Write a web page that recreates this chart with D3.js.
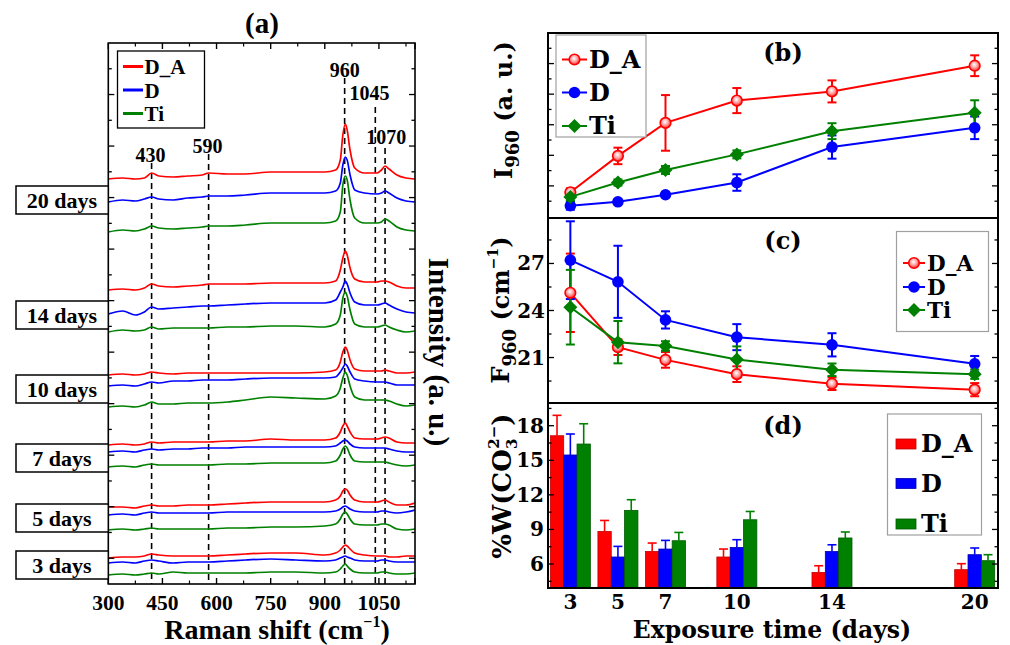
<!DOCTYPE html>
<html><head><meta charset="utf-8">
<script src="https://cdn.jsdelivr.net/npm/d3@7"></script>
<style>
html,body{margin:0;padding:0;background:#fff;}
svg{display:block;}
</style></head>
<body>
<svg id="chart" width="1010" height="645"></svg>
<script>
// ================= DATA =================
const seriesNames = ["D_A", "D", "Ti"];
const seriesColors = ["#ff0000", "#0000ff", "#008000"];
const seriesDark = ["#c00000", "#0000b0", "#005a00"];

// ---- Panel (a): Raman spectra (intensity, a.u., stacked with offsets) ----
const ramanShift = [300,340,375,400,420,440,480,520,560,578,630,680,750,820,900,930,943,950,957,962,970,983,1010,1045,1057,1067,1078,1100,1125,1150];
const spec20_DA = [405,406,405,406,411,408,407,408,409,411,410,410,412,412,412,414,424,449,460,454,434,416,411,411,414,418,415,409,406,405];
const spec20_D  = [382,384,383,385,387,385,384,386,387,388,388,389,391,391,391,393,401,419,427,424,409,394,391,390,391,393,391,386,383,382];
const spec20_Ti = [352,354,353,355,358,356,355,356,357,358,358,359,361,361,361,363,372,399,408,404,384,366,361,361,362,365,363,357,354,353];
const spec14_DA = [294,295,294,296,300,298,297,298,299,300,300,300,301,301,301,303,314,326,333,329,316,305,302,302,303,303,302,298,296,296];
const spec14_D  = [270,273,269,272,277,275,276,277,278,278,279,280,281,281,281,284,292,297,303,300,291,282,279,279,280,281,279,275,272,271];
const spec14_Ti = [252,254,253,254,257,255,256,256,256,256,257,257,258,258,257,260,269,286,292,288,274,260,257,257,258,259,257,254,252,253];
const spec10_DA = [209,210,209,210,212,211,210,211,211,211,211,211,211,211,212,214,222,232,237,234,224,215,213,213,213,214,213,211,211,212];
const spec10_D  = [198,199,198,200,202,201,203,203,204,204,204,205,206,206,206,207,212,216,220,218,212,205,203,202,202,202,201,199,199,199];
const spec10_Ti = [177,178,177,179,182,180,180,181,181,181,182,184,187,186,185,188,196,206,212,209,198,187,184,184,184,184,183,180,178,179];
const spec7_DA  = [139,140,139,140,142,141,142,142,142,142,143,143,145,144,144,146,152,158,161,158,152,146,145,145,146,147,146,142,141,141];
const spec7_D   = [132,133,132,134,135,134,135,135,136,136,136,137,137,137,137,138,141,143,144,143,140,137,136,136,136,136,135,133,132,132];
const spec7_Ti  = [117,118,117,119,120,119,119,119,119,119,120,120,121,121,121,123,129,135,138,136,129,123,122,122,122,122,121,119,118,119];
const spec5_DA  = [77,77,76,78,79,78,78,79,79,79,80,81,82,82,82,84,88,93,95,94,89,84,82,82,83,84,82,79,79,81];
const spec5_D   = [69,70,69,71,72,71,71,71,71,71,72,72,72,72,72,73,75,77,78,77,75,73,72,72,73,73,72,71,72,74];
const spec5_Ti  = [54,55,54,55,56,55,55,55,55,55,56,56,57,57,58,60,65,70,72,70,65,60,59,59,60,60,59,55,54,55];
const spec3_DA  = [26,27,27,28,30,29,28,28,28,28,29,30,31,31,29,31,34,37,39,38,35,31,29,28,28,28,27,27,28,28];
const spec3_D   = [21,22,21,23,24,23,21,22,22,22,23,24,25,24,23,24,26,27,28,27,26,24,23,23,24,24,23,22,22,22];
const spec3_Ti  = [9,10,9,10,11,10,12,11,11,11,11,11,12,12,11,12,15,18,20,18,15,12,11,11,12,12,11,10,10,11];
const dayLabels = ["20 days","14 days","10 days","7 days","5 days","3 days"];
const dayLabelLevels = [384,269,195,126,66,19];
const peakLines = [420,578,955,1040,1067];
const peakLineTops = [421,430,506,477,436];
const peakLabels = ["430","590","960","1045","1070"];
const peakLabelPos = [417,575,955,1024,1070];
const peakLabelLevels = [422,431,507,484,440];
const ramanTicks = [300,450,600,750,900,1050];
const ramanMinorTicks = [375,525,675,825,975,1125];

// ---- Panels (b)-(d): shared exposure time ----
const exposureDays = [3,5,7,10,14,20];
// (b) I960 (a.u.)
const I960_DA = [0.79,1.98,3.06,3.79,4.09,4.93];
const I960_DA_err = [0.13,0.27,0.91,0.41,0.36,0.34];
const I960_D = [0.35,0.48,0.71,1.11,2.27,2.90];
const I960_D_err = [0.13,0.07,0.07,0.27,0.38,0.37];
const I960_Ti = [0.64,1.11,1.52,2.03,2.79,3.39];
const I960_Ti_err = [0.13,0.10,0.13,0.13,0.26,0.41];
// (c) F960 (cm-1)
const F960_DA = [25.13,21.66,20.85,19.94,19.33,18.95];
const F960_DA_err = [2.50,0.50,0.50,0.50,0.40,0.42];
const F960_D = [27.21,25.83,23.40,22.30,21.81,20.60];
const F960_D_err = [2.48,2.30,0.55,0.83,0.74,0.50];
const F960_Ti = [24.21,21.98,21.74,20.87,20.22,19.94];
const F960_Ti_err = [2.38,1.35,0.30,0.84,0.40,0.30];
const F960Ticks = [21,24,27];
// (d) %W(CO3 2-)
const W_DA = [17.13,8.83,7.09,6.61,5.27,5.51];
const W_DA_err = [1.77,0.95,0.73,0.69,0.58,0.52];
const W_D = [15.46,6.61,7.30,7.44,7.09,6.81];
const W_D_err = [1.82,0.92,0.75,0.67,0.58,0.58];
const W_Ti = [16.41,10.65,8.02,9.84,8.26,6.29];
const W_Ti_err = [1.76,0.93,0.72,0.72,0.52,0.52];
const WTicks = [6,9,12,15,18];

// ================= DRAWING =================
const svg = d3.select("#chart");
const FA = "'Liberation Serif', 'Times New Roman', serif";
const FR = "'DejaVu Serif', serif";

const defs = svg.append("defs");
const gr = defs.append("radialGradient").attr("id","gRed").attr("cx","45%").attr("cy","40%").attr("r","60%");
gr.append("stop").attr("offset","0%").attr("stop-color","#ffffff");
gr.append("stop").attr("offset","55%").attr("stop-color","#ff9a9a");
gr.append("stop").attr("offset","100%").attr("stop-color","#ff2020");

function line(g, x1, y1, x2, y2, w, c, dash) {
  const l = g.append("line").attr("x1",x1).attr("y1",y1).attr("x2",x2).attr("y2",y2)
    .attr("stroke", c || "#000").attr("stroke-width", w || 1.5);
  if (dash) l.attr("stroke-dasharray", dash);
  return l;
}

// ---------- Panel (a) ----------
const A = {x0:108.3, x1:415, y0:43, y1:584};
const xA = d3.scaleLinear().domain([300,1150]).range([A.x0, A.x1]);
const yA = d3.scaleLinear().domain([0,541]).range([A.y1, A.y0]);
const gA = svg.append("g");

defs.append("clipPath").attr("id","clipA").append("rect")
  .attr("x",A.x0).attr("y",A.y0).attr("width",A.x1-A.x0).attr("height",A.y1-A.y0);

const spectra = [
  [spec20_DA, spec20_D, spec20_Ti],
  [spec14_DA, spec14_D, spec14_Ti],
  [spec10_DA, spec10_D, spec10_Ti],
  [spec7_DA, spec7_D, spec7_Ti],
  [spec5_DA, spec5_D, spec5_Ti],
  [spec3_DA, spec3_D, spec3_Ti]
];
const specLine = d3.line().x((d,i)=>xA(ramanShift[i])).y(d=>yA(d)).curve(d3.curveMonotoneX);

peakLines.forEach((p,i)=>{
  line(gA, xA(p), yA(peakLineTops[i]), xA(p), A.y1, 1.6, "#000", "6,4");
});

const gSpec = gA.append("g").attr("clip-path","url(#clipA)");
spectra.forEach(grp=>{
  grp.forEach((s,k)=>{
    gSpec.append("path").attr("d", specLine(s)).attr("fill","none")
      .attr("stroke", seriesColors[k]).attr("stroke-width",1.7);
  });
});

peakLabels.forEach((t,i)=>{
  gA.append("text").attr("x", xA(peakLabelPos[i])).attr("y", yA(peakLabelLevels[i]))
    .attr("text-anchor","middle").attr("font-family",FA).attr("font-weight","bold")
    .attr("font-size",20).text(t);
});

gA.append("rect").attr("x",A.x0).attr("y",A.y0).attr("width",A.x1-A.x0).attr("height",A.y1-A.y0)
  .attr("fill","none").attr("stroke","#000").attr("stroke-width",1.6);
ramanTicks.concat([1150]).forEach(v=>{
  line(gA, xA(v), A.y1, xA(v), A.y1-6, 1.4);
  line(gA, xA(v), A.y0, xA(v), A.y0+6, 1.4);
});
ramanMinorTicks.forEach(v=>{
  line(gA, xA(v), A.y1, xA(v), A.y1-3.5, 1.2);
  line(gA, xA(v), A.y0, xA(v), A.y0+3.5, 1.2);
});
d3.range(1,21).forEach(k=>{
  const v = k*541/21, len = (k%2===1)?6:3.5;
  line(gA, A.x0, yA(v), A.x0+len, yA(v), 1.3);
  line(gA, A.x1, yA(v), A.x1-len, yA(v), 1.3);
});
ramanTicks.forEach(v=>{
  gA.append("text").attr("x",xA(v)).attr("y",609.5).attr("text-anchor","middle")
    .attr("font-family",FA).attr("font-weight","bold").attr("font-size",21.5).text(v);
});
const tR = gA.append("text").attr("x",277).attr("y",639).attr("text-anchor","middle")
  .attr("font-family",FA).attr("font-weight","bold").attr("font-size",28);
tR.append("tspan").text("Raman shift (cm");
tR.append("tspan").attr("font-size",16).attr("dy",-12).text("\u22121");
tR.append("tspan").attr("dy",12).text(")");
gA.append("text").attr("transform","translate(429,352) rotate(90)").attr("text-anchor","middle")
  .attr("font-family",FA).attr("font-weight","bold").attr("font-size",29).text("Intensity (a. u.)");
gA.append("text").attr("x",262).attr("y",33).attr("text-anchor","middle")
  .attr("font-family",FA).attr("font-weight","bold").attr("font-size",29).text("(a)");

dayLabels.forEach((t,i)=>{
  const cy = yA(dayLabelLevels[i]);
  gA.append("rect").attr("x",16).attr("y",cy-14).attr("width",A.x0-16).attr("height",28)
    .attr("fill","#fff").attr("stroke","#000").attr("stroke-width",1.5);
  gA.append("text").attr("x",62).attr("y",cy+7.5).attr("text-anchor","middle")
    .attr("font-family",FA).attr("font-weight","bold").attr("font-size",22).text(t);
});

gA.append("rect").attr("x",117.5).attr("y",51).attr("width",87).attr("height",77)
  .attr("fill","#fff").attr("stroke","#000").attr("stroke-width",1.3);
[66.5, 90, 113.5].forEach((ly,i)=>{
  line(gA, 123, ly, 143, ly, 3, seriesColors[i]);
  gA.append("text").attr("x",144.5).attr("y",ly+7.5).attr("font-family",FA)
    .attr("font-weight","bold").attr("font-size",21).text(seriesNames[i]);
});

// ---------- Panels (b)-(d) ----------
const RX = {x0:548, x1:998};
const xR = d3.scaleLinear().domain([2.06,20.98]).range([RX.x0, RX.x1]);
const yB = d3.scaleLinear().domain([-0.05,6]).range([218,33]);
const yC = d3.scaleLinear().domain([18.1,29.9]).range([403,218]);
const yD = d3.scaleLinear().domain([3.92,19.97]).range([588,403]);
const gR = svg.append("g");

function marker(g, k, cx, cy, s) {
  s = s || 1;
  if (k===0) {
    g.append("circle").attr("cx",cx).attr("cy",cy).attr("r",5.3*s)
      .attr("fill","url(#gRed)").attr("stroke","#ff0000").attr("stroke-width",1.6);
  } else if (k===1) {
    g.append("circle").attr("cx",cx).attr("cy",cy).attr("r",5.8*s).attr("fill","#0000ff");
  } else {
    const r = 7*s;
    g.append("path").attr("d",`M${cx},${cy-r}L${cx+r},${cy}L${cx},${cy+r}L${cx-r},${cy}Z`).attr("fill","#008000");
  }
}

function linePanel(y, vals, errs) {
  const g = gR.append("g");
  vals.forEach((arr,k)=>{
    const c = seriesColors[k];
    const ln = d3.line().x((d,i)=>xR(exposureDays[i])).y(d=>y(d));
    g.append("path").attr("d",ln(arr)).attr("fill","none").attr("stroke",c).attr("stroke-width",2);
    arr.forEach((v,i)=>{
      const cx = xR(exposureDays[i]), e = errs[k][i];
      line(g, cx, y(v-e), cx, y(v+e), 2, c);
      line(g, cx-4.5, y(v+e), cx+4.5, y(v+e), 2, c);
      line(g, cx-4.5, y(v-e), cx+4.5, y(v-e), 2, c);
    });
  });
  vals.forEach((arr,k)=>{
    arr.forEach((v,i)=> marker(g, k, xR(exposureDays[i]), y(v)));
  });
}

linePanel(yB, [I960_DA, I960_D, I960_Ti], [I960_DA_err, I960_D_err, I960_Ti_err]);
linePanel(yC, [F960_DA, F960_D, F960_Ti], [F960_DA_err, F960_D_err, F960_Ti_err]);

const xSub = d3.scaleBand().domain(seriesNames).range([-20,20]).padding(0);
const gBars = gR.append("g");
[W_DA, W_D, W_Ti].forEach((arr,k)=>{
  const errs = [W_DA_err, W_D_err, W_Ti_err][k];
  arr.forEach((v,i)=>{
    const bx = xR(exposureDays[i]) + xSub(seriesNames[k]);
    const bw = xSub.bandwidth();
    gBars.append("rect").attr("x",bx).attr("y",yD(v)).attr("width",bw)
      .attr("height",yD.range()[0]-yD(v)).attr("fill",seriesColors[k])
      .attr("stroke",seriesDark[k]).attr("stroke-width",0.8);
    const cx = bx + bw/2;
    line(gBars, cx, yD(v), cx, yD(v+errs[i]), 1.6, seriesColors[k]);
    line(gBars, cx-4.5, yD(v+errs[i]), cx+4.5, yD(v+errs[i]), 1.6, seriesColors[k]);
  });
});

[[33,218],[218,403],[403,588]].forEach(([t,b])=>{
  gR.append("rect").attr("x",RX.x0).attr("y",t).attr("width",RX.x1-RX.x0).attr("height",b-t)
    .attr("fill","none").attr("stroke","#000").attr("stroke-width",2);
});
function yTicks(y, vals, majors) {
  vals.forEach(v=>{
    const len = majors.includes(v) ? 6 : 3.5;
    line(gR, RX.x0, y(v), RX.x0+len, y(v), 1.3);
    line(gR, RX.x1, y(v), RX.x1-len, y(v), 1.3);
  });
}
yTicks(yB, d3.range(0.5,6,0.5), [1,2,3,4,5]);
yTicks(yC, [19.5,21,22.5,24,25.5,27,28.5], F960Ticks);
yTicks(yD, [4.5,6,7.5,9,10.5,12,13.5,15,16.5,18,19.5], WTicks);

F960Ticks.forEach(v=>{
  gR.append("text").attr("x",545).attr("y",yC(v)+7).attr("text-anchor","end")
    .attr("font-family",FR).attr("font-weight","bold").attr("font-size",20).text(v);
});
WTicks.forEach(v=>{
  gR.append("text").attr("x",544).attr("y",yD(v)+7).attr("text-anchor","end")
    .attr("font-family",FR).attr("font-weight","bold").attr("font-size",20).text(v);
});
exposureDays.forEach(d=>{
  gR.append("text").attr("x",xR(d)).attr("y",609).attr("text-anchor","middle")
    .attr("font-family",FR).attr("font-weight","bold").attr("font-size",20).text(d);
});
gR.append("text").attr("x",772).attr("y",638).attr("text-anchor","middle")
  .attr("font-family",FR).attr("font-weight","bold").attr("font-size",23.5).text("Exposure time (days)");

const tI = gR.append("text").attr("transform","translate(512,110) rotate(-90)").attr("text-anchor","middle")
  .attr("font-family",FR).attr("font-weight","bold").attr("font-size",24);
tI.append("tspan").text("I");
tI.append("tspan").attr("font-size",18).attr("dy",7).text("960");
tI.append("tspan").attr("dy",-7).text(" (a. u.)");

const tF = gR.append("text").attr("transform","translate(509,310) rotate(-90)").attr("text-anchor","middle")
  .attr("font-family",FR).attr("font-weight","bold").attr("font-size",24);
tF.append("tspan").text("F");
tF.append("tspan").attr("font-size",18).attr("dy",7).text("960");
tF.append("tspan").attr("dy",-7).text(" (cm");
tF.append("tspan").attr("font-size",14).attr("dy",-11).text("\u22121");
tF.append("tspan").attr("dy",11).text(")");

const tW = gR.append("text").attr("transform","translate(511,486) rotate(-90)").attr("text-anchor","middle")
  .attr("font-family",FR).attr("font-weight","bold").attr("font-size",26);
tW.append("tspan").text("%W(CO");
tW.append("tspan").attr("font-size",15).attr("dy",6).text("3");
tW.append("tspan").attr("font-size",15).attr("dx",-10).attr("dy",-18).text("2\u2212");
tW.append("tspan").attr("dy",12).text(")");

[["(b)",61],["(c)",249],["(d)",434]].forEach(([t,yy])=>{
  gR.append("text").attr("x",783).attr("y",yy).attr("text-anchor","middle")
    .attr("font-family",FR).attr("font-weight","bold").attr("font-size",24).text(t);
});

function lineLegend(bx, by, bw, bh, rows, lx0, lx1, tx, fs) {
  gR.append("rect").attr("x",bx).attr("y",by).attr("width",bw).attr("height",bh)
    .attr("fill","#fff").attr("stroke","#a0a0a0").attr("stroke-width",1.2);
  rows.forEach((ry,k)=>{
    line(gR, lx0, ry, lx1, ry, 2, seriesColors[k]);
    marker(gR, k, (lx0+lx1)/2, ry);
    gR.append("text").attr("x",tx).attr("y",ry+fs*0.35).attr("font-family",FR)
      .attr("font-weight","bold").attr("font-size",fs).text(seriesNames[k]);
  });
}
lineLegend(556, 35, 90, 102, [59.5,92.5,126], 562, 587, 589, 24);
lineLegend(896.5, 231.5, 92, 100, [263,287,310], 903, 925, 927, 21.5);

gR.append("rect").attr("x",887.5).attr("y",414).attr("width",94).attr("height",121)
  .attr("fill","#fff").attr("stroke","#a0a0a0").attr("stroke-width",1.2);
[444,483.5,524].forEach((ry,k)=>{
  gR.append("rect").attr("x",896).attr("y",ry-5).attr("width",20).attr("height",10)
    .attr("fill",seriesColors[k]).attr("stroke",seriesDark[k]).attr("stroke-width",0.8);
  gR.append("text").attr("x",921).attr("y",ry+8).attr("font-family",FR)
    .attr("font-weight","bold").attr("font-size",24).text(seriesNames[k]);
});
</script>
</body></html>
